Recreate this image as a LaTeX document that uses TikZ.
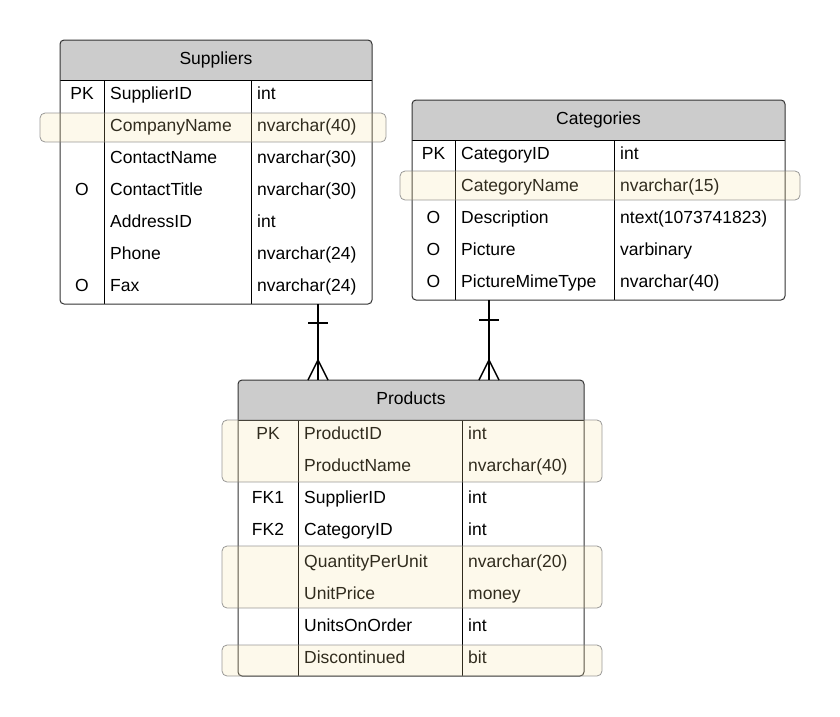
\documentclass[tikz,border=0pt]{standalone}
\usepackage{fontspec}
\setmainfont{Liberation Sans}
\usetikzlibrary{fit}
\definecolor{hdr}{HTML}{CCCCCC}
\definecolor{frm}{HTML}{333333}
\definecolor{hl}{HTML}{F6E09A}
\tikzset{
  tbl/.style={draw=frm, line width=1pt, rounded corners=4pt, inner sep=0pt, outer sep=0pt},
  cell/.style={font=\fontsize{17.5}{20}\selectfont, inner sep=0pt, anchor=base west},
  keycell/.style={font=\fontsize{17.5}{20}\selectfont, inner sep=0pt, anchor=base},
  ttl/.style={font=\fontsize{17.5}{20}\selectfont, inner sep=0pt, anchor=base},
  grid/.style={draw=black, line width=0.9pt},
  hlbox/.style={draw=gray, draw opacity=0.8, fill=hl, fill opacity=0.2, rounded corners=5pt, line width=0.8pt, inner sep=0pt},
  rel/.style={line width=1.4pt, draw=black}
}
\newcommand\ertable[9]{%
  % #1 name, #2 left, #3 top, #4 right, #5 nrows, #6 div1, #7 div2, #8 title, #9 rows
  \pgfmathsetmacro\erbot{#3+40+32*#5}
  \fill[hdr] (#2,#3+40) [rounded corners=4pt] -- (#2,#3) -- (#4,#3) [sharp corners] -- (#4,#3+40) -- cycle;
  \node[ttl] (#1-title) at ({(#2+#4)/2},#3+24.5) {#8};
  \draw[grid] (#2,#3+40) -- (#4,#3+40);
  \draw[grid] (#6,#3+40) -- (#6,\erbot);
  \draw[grid] (#7,#3+40) -- (#7,\erbot);
  \node[tbl, fit={(#2,#3) (#4,\erbot)}] (#1) {};
  \foreach \k/\n/\t [count=\i] in {#9} {
    \pgfmathsetmacro\yb{#3+40+32*\i-16+3.5}
    \node[keycell] (#1-k\i) at ({(#2+#6)/2},\yb) {\k};
    \node[cell] (#1-n\i) at (#6+6,\yb) {\n};
    \node[cell] (#1-t\i) at (#7+6,\yb) {\t};
  }
}
\begin{document}
\begin{tikzpicture}[x=1pt,y=-1pt]
\useasboundingbox (0,0) rectangle (840,716);
\ertable{sup}{60}{40}{372}{7}{104}{251}{Suppliers}{PK/SupplierID/int, /CompanyName/{nvarchar(40)}, /ContactName/{nvarchar(30)}, O/ContactTitle/{nvarchar(30)}, /AddressID/int, /Phone/{nvarchar(24)}, O/Fax/{nvarchar(24)}}
\ertable{cat}{412}{100}{785}{5}{455}{614}{Categories}{PK/CategoryID/int, /CategoryName/{nvarchar(15)}, O/Description/{ntext(1073741823)}, O/Picture/varbinary, O/PictureMimeType/{nvarchar(40)}}
\ertable{prod}{238}{380}{584}{8}{298}{462}{Products}{PK/ProductID/int, /ProductName/{nvarchar(40)}, FK1/SupplierID/int, FK2/CategoryID/int, /QuantityPerUnit/{nvarchar(20)}, /UnitPrice/money, /UnitsOnOrder/int, /Discontinued/bit}
% highlights
\node[hlbox, fit={(40,113) (386,142)}] (hl1) {};
\node[hlbox, fit={(400,171) (800,200)}] (hl2) {};
\node[hlbox, fit={(222,420) (602,482)}] (hl3) {};
\node[hlbox, fit={(222,546) (602,608)}] (hl4) {};
\node[hlbox, fit={(222,645) (602,676)}] (hl5) {};
% relationships
\coordinate (r1) at (318,0);
\coordinate (r2) at (489,0);
\coordinate (b1l) at (308,323); \coordinate (b1r) at (328,323);
\coordinate (a1) at (318,360); \coordinate (f1l) at (308,380); \coordinate (f1r) at (328,380);
\coordinate (b2l) at (479,320); \coordinate (b2r) at (499,320);
\coordinate (a2) at (489,360); \coordinate (f2l) at (479,380); \coordinate (f2r) at (499,380);
\draw[rel] (sup.south -| r1) -- (prod.north -| r1);
\draw[rel] (b1l) -- (b1r);
\draw[rel] (f1l) -- (a1) -- (f1r);
\draw[rel] (cat.south -| r2) -- (prod.north -| r2);
\draw[rel] (b2l) -- (b2r);
\draw[rel] (f2l) -- (a2) -- (f2r);
\end{tikzpicture}
\end{document}
